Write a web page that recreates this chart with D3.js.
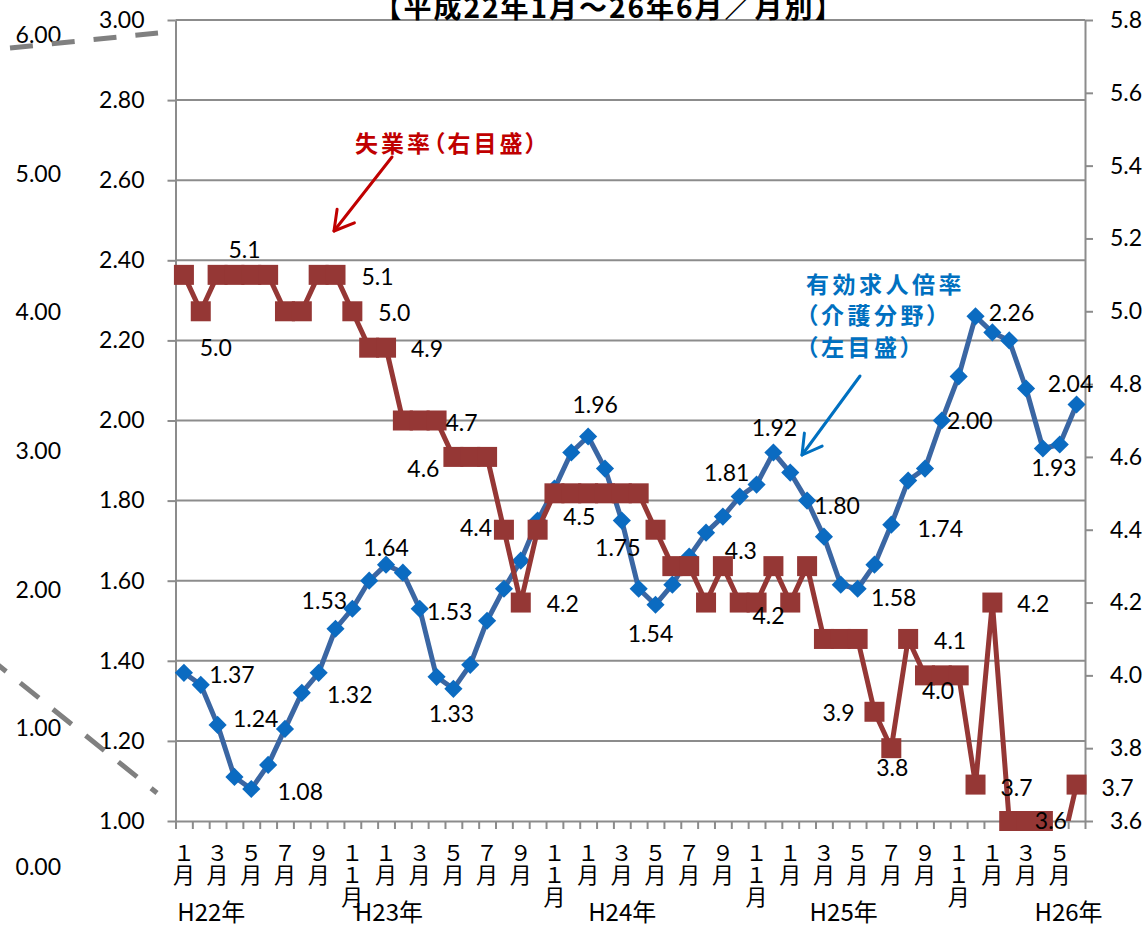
<!DOCTYPE html>
<html><head><meta charset="utf-8">
<script src="https://cdn.jsdelivr.net/npm/d3@7"></script>
<style>
body{margin:0;background:#fff;}
svg{display:block;}
.num{font-family:Lato,"Liberation Sans",sans-serif;font-size:23px;fill:#000;}
.jp{font-family:"Noto Sans CJK JP","Noto Sans",sans-serif;}
</style></head><body>
<svg id="chart" width="1147" height="927"></svg>
<script>
// ---------------- data ----------------
const title = "【平成22年1月～26年6月／月別】";
const categories = [
 "１月","２月","３月","４月","５月","６月","７月","８月","９月","１０月","１１月","１２月",
 "１月","２月","３月","４月","５月","６月","７月","８月","９月","１０月","１１月","１２月",
 "１月","２月","３月","４月","５月","６月","７月","８月","９月","１０月","１１月","１２月",
 "１月","２月","３月","４月","５月","６月","７月","８月","９月","１０月","１１月","１２月",
 "１月","２月","３月","４月","５月","６月"];
const yearLabels = ["H22年","H23年","H24年","H25年","H26年"];
const yearLabelAt = [0.1, 10.65, 24.5, 37.65, 51.0];

// 有効求人倍率（介護分野）left axis
const jobRatio = [1.37,1.34,1.24,1.11,1.08,1.14,1.23,1.32,1.37,1.48,
 1.53,1.60,1.64,1.62,1.53,1.36,1.33,1.39,1.50,1.58,
 1.65,1.75,1.83,1.92,1.96,1.88,1.75,1.58,1.54,1.59,
 1.66,1.72,1.76,1.81,1.84,1.92,1.87,1.80,1.71,1.59,
 1.58,1.64,1.74,1.85,1.88,2.00,2.11,2.26,2.22,2.20,
 2.08,1.93,1.94,2.04];
// 失業率 right axis
const unemployment = [5.1,5.0,5.1,5.1,5.1,5.1,5.0,5.0,5.1,5.1,
 5.0,4.9,4.9,4.7,4.7,4.7,4.6,4.6,4.6,4.4,
 4.2,4.4,4.5,4.5,4.5,4.5,4.5,4.5,4.4,4.3,
 4.3,4.2,4.3,4.2,4.2,4.3,4.2,4.3,4.1,4.1,
 4.1,3.9,3.8,4.1,4.0,4.0,4.0,3.7,4.2,3.6,
 3.6,3.6,3.5,3.7];

const leftTicks = [1.0,1.2,1.4,1.6,1.8,2.0,2.2,2.4,2.6,2.8,3.0];
const rightTicks = [3.6,3.8,4.0,4.2,4.4,4.6,4.8,5.0,5.2,5.4,5.6,5.8];
const outerTicks = [0,1,2,3,4,5,6];

// data label placement (index, dx, dy)
const jobLabels = [[0,48,1],[2,38,-7],[4,49,2],[7,48,1],[10,-28,-9],[12,0,-18],[14,30,2],
 [16,-2,24],[24,7,-33],[26,-4,26],[28,-5,28],[33,-13,-25],[35,1,-26],[37,30,4],
 [40,36,8],[42,49,3],[45,28,-1],[47,36,-4],[51,11,18],[53,-6,-21]];
const unempLabels = [[3,10,-26],[1,15,36],[9,42,1],[10,42,1],[12,41,0],[15,25,1],[16,-30,11],
 [19,-28,-3],[20,42,0],[23,8,23],[32,18,-16],[34,12,12],[41,-36,0],[42,1,19],
 [43,42,1],[44,13,15],[47,41,2],[48,41,0],[51,8,-1],[53,41,2]];

// ---------------- layout ----------------
const L = 175.5, R = 1085, T = 20, B = 821;
const svg = d3.select("#chart");
const gray = "#8C8C8C";
const blueLine = "#3A66A3", blueMark = "#0B6BC1", red = "#953735";

const x = d3.scaleBand().domain(d3.range(categories.length)).range([L, R]).padding(0);
const xEdge = d3.scaleLinear().domain([0, categories.length]).range([L, R]);
const cx = i => x(i) + x.bandwidth() / 2;
const yL = d3.scaleLinear().domain([1, 3]).range([B, T]);
const yR = d3.scaleLinear().domain([3.6, 5.8]).range([B, T]);
const yO = d3.scaleLinear().domain([0, 6]).range([866, 34]);

// gridlines
svg.append("g").selectAll("line").data(leftTicks.slice(1)).join("line")
  .attr("x1", L).attr("x2", R).attr("y1", d => yL(d)).attr("y2", d => yL(d))
  .attr("stroke", gray).attr("stroke-width", 2);

// left axis
const gl = svg.append("g").attr("transform", `translate(${L},0)`)
  .call(d3.axisLeft(yL).tickValues(leftTicks).tickFormat(d3.format(".2f")).tickSize(8).tickSizeOuter(0).tickPadding(23));
// right axis
const gr = svg.append("g").attr("transform", `translate(${R},0)`)
  .call(d3.axisRight(yR).tickValues(rightTicks).tickFormat(d3.format(".1f")).tickSize(8).tickSizeOuter(0).tickPadding(17));
// bottom axis
const gb = svg.append("g").attr("transform", `translate(0,${B})`)
  .call(d3.axisBottom(xEdge).tickValues(d3.range(categories.length + 1)).tickFormat("").tickSize(8).tickSizeOuter(0));
[gl, gr, gb].forEach(g => {
  g.selectAll("path.domain").attr("stroke", gray).attr("stroke-width", 2);
  g.selectAll(".tick line").attr("stroke", gray).attr("stroke-width", 2);
  g.selectAll(".tick text").attr("class", "num").attr("font-size", null).attr("font-family", null).attr("fill", "#000");
});

// outer (decorative) left scale labels
svg.append("g").selectAll("text").data(outerTicks).join("text")
  .attr("class", "num").attr("x", 61).attr("y", d => yO(d)).attr("text-anchor", "end")
  .attr("dominant-baseline", "central").text(d => d3.format(".2f")(d));

// break marks
const brk = svg.append("g").attr("stroke", "#808080").attr("stroke-width", 5).attr("fill", "none")
  .attr("stroke-dasharray", "23,19");
brk.append("line").attr("x1", 10).attr("y1", 48).attr("x2", 158).attr("y2", 33);
brk.append("line").attr("x1", -12.5).attr("y1", 656.5).attr("x2", 157).attr("y2", 793).attr("stroke-dasharray", "24,18");

// month labels (vertical)
const ml = svg.append("g").attr("class", "jp").attr("font-size", 22);
categories.forEach((c, i) => {
  if (i % 2 !== 0) return;
  const t = ml.append("text").attr("text-anchor", "middle");
  Array.from(c).forEach((ch, k) => {
    t.append("tspan").attr("x", cx(i)).attr("y", 851 + k * 22).attr("dominant-baseline", "central").text(ch);
  });
});
// year labels
svg.append("g").selectAll("text").data(yearLabels).join("text")
  .attr("class", "jp").attr("font-size", 24)
  .attr("x", (d, k) => xEdge(yearLabelAt[k])).attr("y", 910).attr("dominant-baseline", "central")
  .text(d => d);

// clip
svg.append("clipPath").attr("id", "plotclip").append("rect")
  .attr("x", L - 20).attr("y", 0).attr("width", R - L + 40).attr("height", B);

// blue series
svg.append("path").datum(jobRatio)
  .attr("d", d3.line().x((d, i) => cx(i)).y(d => yL(d)))
  .attr("fill", "none").attr("stroke", blueLine).attr("stroke-width", 5).attr("stroke-linejoin", "round");
svg.append("g").selectAll("path").data(jobRatio).join("path")
  .attr("d", d3.symbol(d3.symbolSquare, 165))
  .attr("transform", (d, i) => `translate(${cx(i)},${yL(d)}) rotate(45)`)
  .attr("fill", blueMark);

// red series
svg.append("path").datum(unemployment)
  .attr("clip-path", "url(#plotclip)")
  .attr("d", d3.line().x((d, i) => cx(i)).y(d => yR(d)))
  .attr("fill", "none").attr("stroke", red).attr("stroke-width", 5).attr("stroke-linejoin", "round");
svg.append("g").selectAll("rect").data(unemployment.map((v, i) => ({v, i})).filter(d => d.v >= 3.6)).join("rect")
  .attr("x", d => cx(d.i) - 10).attr("y", d => yR(d.v) - 10).attr("width", 20).attr("height", 20)
  .attr("fill", red);

// data labels
svg.append("g").selectAll("text").data(jobLabels).join("text")
  .attr("class", "num").attr("text-anchor", "middle").attr("dominant-baseline", "central")
  .attr("x", d => cx(d[0]) + d[1]).attr("y", d => yL(jobRatio[d[0]]) + d[2])
  .text(d => d3.format(".2f")(jobRatio[d[0]]));
svg.append("g").selectAll("text").data(unempLabels).join("text")
  .attr("class", "num").attr("text-anchor", "middle").attr("dominant-baseline", "central")
  .attr("x", d => cx(d[0]) + d[1]).attr("y", d => yR(unemployment[d[0]]) + d[2])
  .text(d => d3.format(".1f")(unemployment[d[0]]));

// title
svg.append("text").attr("class", "jp").attr("x", 609).attr("y", 18)
  .attr("text-anchor", "middle").attr("font-size", 28).attr("font-weight", "bold")
  .attr("letter-spacing", 2).text(title);

// annotations
function arrow(x1, y1, x2, y2, color) {
  const g = svg.append("g").attr("stroke", color).attr("stroke-width", 3).attr("fill", "none")
    .attr("stroke-linecap", "round").attr("stroke-linejoin", "round");
  g.append("line").attr("x1", x1).attr("y1", y1).attr("x2", x2).attr("y2", y2);
  const a = Math.atan2(y1 - y2, x1 - x2), len = 22, sp = Math.PI / 6;
  g.append("path").attr("d",
    `M${x2 + len * Math.cos(a + sp)},${y2 + len * Math.sin(a + sp)}L${x2},${y2}L${x2 + len * Math.cos(a - sp)},${y2 + len * Math.sin(a - sp)}`);
}
svg.append("text").attr("class", "jp").attr("x", 355).attr("y", 141.5)
  .attr("dominant-baseline", "central").attr("font-size", 23).attr("font-weight", "bold")
  .attr("letter-spacing", 3).style("font-feature-settings", '"palt"')
  .attr("fill", "#C00000").text("失業率（右目盛）");
arrow(392, 157, 334, 231, "#C00000");

const blueNote = ["有効求人倍率", "（介護分野）", "（左目盛）"];
const bn = svg.append("g");
blueNote.forEach((s, k) => {
  bn.append("text").attr("class", "jp").attr("x", 806).attr("y", [283, 314, 346][k])
    .attr("dominant-baseline", "central").attr("font-size", 23).attr("font-weight", "bold")
    .attr("letter-spacing", 3.5).style("font-feature-settings", '"palt"')
    .attr("fill", "#0070C0").text(s);
});
arrow(860, 376, 802, 455, "#0070C0");
</script>
</body></html>
